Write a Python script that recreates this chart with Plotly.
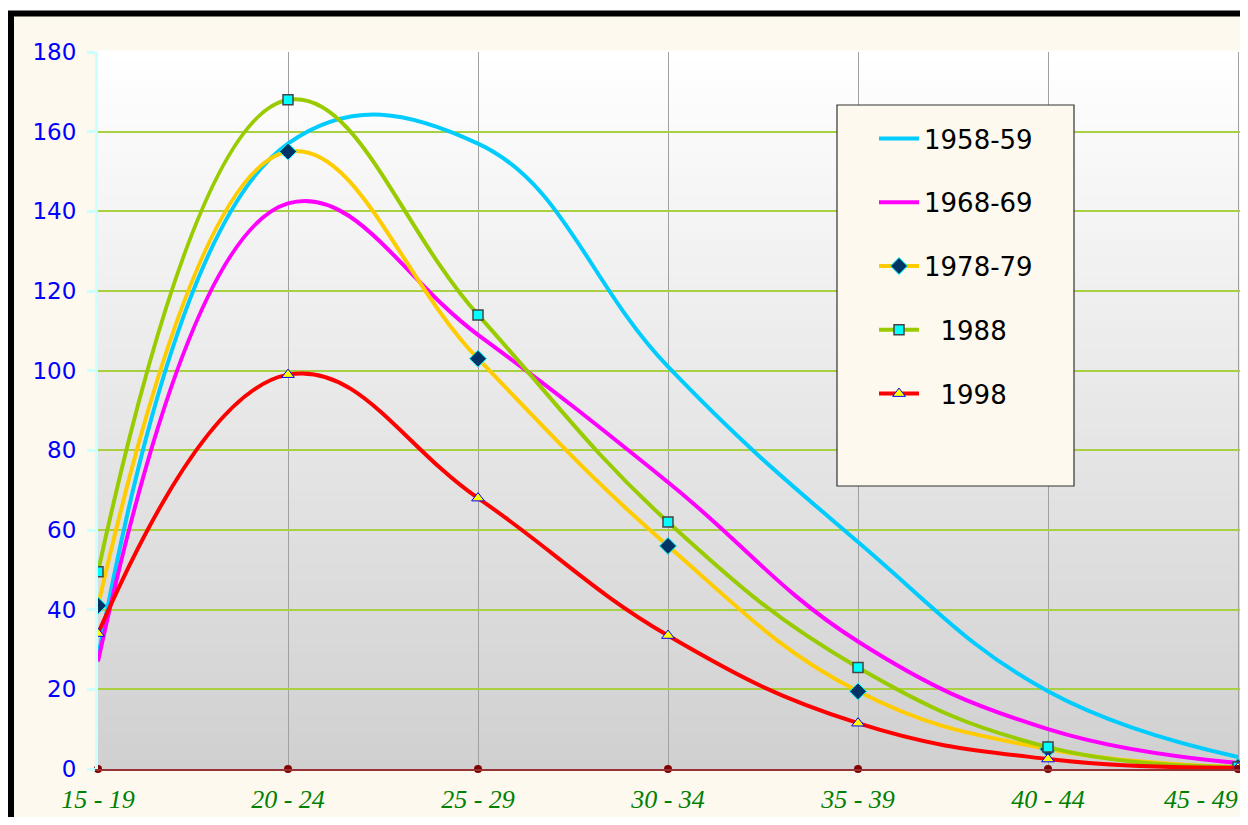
import plotly.graph_objects as go

age_groups = ["15 - 19", "20 - 24", "25 - 29", "30 - 34", "35 - 39", "40 - 44", "45 - 49"]
s_1958 = [28, 157, 157, 101, 57, 19.5, 3]
s_1968 = [27, 142, 109, 72, 32, 10, 1.5]
s_1978 = [41, 155, 103, 56, 19.5, 5, 0.5]
s_1988 = [49.5, 168, 114, 62, 25.5, 5.5, 0.5]
s_1998 = [34, 99, 68, 33.5, 11.5, 2.5, 0.3]
axis_points = [0, 0, 0, 0, 0, 0, 0]
y_ticks = [0, 20, 40, 60, 80, 100, 120, 140, 160, 180]

# figure sits in the page with the default 8px body margin
OFF = 8
W, H = 1248 - 2 * OFF, 825 - 2 * OFF
L, R, T = 98 - OFF, 0, 52 - OFF
B = H - (769 - OFF)
pw = W - L - R
ph = H - T - B

def px_x(px):  # page pixel -> paper x
    return (px - OFF - L) / pw

def px_y(py):  # page pixel -> paper y
    return (H - B - (py - OFF)) / ph

fig = go.Figure()

line_w = 4
sm = 1.2
fig.add_trace(go.Scatter(x=age_groups, y=s_1958, name="1958-59", mode="lines",
                         line=dict(color="#00CCFF", width=line_w, shape="spline", smoothing=sm),
                         legendgroup="a"))
fig.add_trace(go.Scatter(x=age_groups, y=s_1968, name="1968-69", mode="lines",
                         line=dict(color="#FF00FF", width=line_w, shape="spline", smoothing=sm),
                         legendgroup="b"))
fig.add_trace(go.Scatter(x=age_groups, y=s_1978, name="1978-79", mode="lines+markers",
                         line=dict(color="#FFCC00", width=line_w, shape="spline", smoothing=sm),
                         marker=dict(symbol="diamond", size=13, color="#003366",
                                     line=dict(color="#00FFFF", width=1)),
                         legendgroup="c"))
fig.add_trace(go.Scatter(x=age_groups, y=s_1988, name="&nbsp;&nbsp;1988", mode="lines+markers",
                         line=dict(color="#99CC00", width=line_w, shape="spline", smoothing=sm),
                         marker=dict(symbol="square", size=10, color="#00FFFF",
                                     line=dict(color="#444444", width=1.5)),
                         legendgroup="d"))
fig.add_trace(go.Scatter(x=age_groups, y=s_1998, name="&nbsp;&nbsp;1998", mode="lines+markers",
                         line=dict(color="#FF0000", width=line_w, shape="spline", smoothing=sm),
                         marker=dict(symbol="triangle-up", size=11, color="#FFFF00",
                                     line=dict(color="#0000FF", width=1)),
                         legendgroup="e"))
fig.add_trace(go.Scatter(x=age_groups, y=axis_points, mode="markers", showlegend=False,
                         marker=dict(symbol="circle", size=8, color="#800000"),
                         cliponaxis=False, hoverinfo="skip"))

shapes = []
# chart area background with thick black border
shapes.append(dict(type="rect", xref="paper", yref="paper",
                   x0=px_x(11), x1=px_x(1400), y0=px_y(1000), y1=px_y(13.5),
                   fillcolor="#FDF9EF", line=dict(color="black", width=6), layer="below"))
# plot area vertical gradient (white top -> gray bottom)
n = 80
top_c, bot_c = 255, 208
for i in range(n):
    f0 = i / n
    f1 = (i + 1) / n
    v = round(bot_c + (top_c - bot_c) * (f0 + f1) / 2)
    shapes.append(dict(type="rect", xref="x domain", yref="y domain",
                       x0=0, x1=1, y0=f0, y1=f1 + 0.002,
                       fillcolor=f"rgb({v},{v},{v})", line=dict(width=0), layer="below"))
# legend box
shapes.append(dict(type="rect", xref="paper", yref="paper",
                   x0=px_x(837), x1=px_x(1074), y0=px_y(486), y1=px_y(105),
                   fillcolor="#FDF9EF", line=dict(color="#333333", width=1.2), layer="above"))

unit = (1238 - 98) / 6.0  # page pixels per category

xfont = dict(family="Liberation Serif", size=26, color="#008000", style="italic")

# last category label kept fully visible at the right edge
tick_text = age_groups[:-1] + [""]
annotations = [dict(text=age_groups[-1], xref="paper", yref="paper",
                    x=1.0, y=0, xanchor="right", yanchor="top", yshift=-14,
                    showarrow=False, font=xfont)]

fig.update_layout(
    width=W, height=H,
    margin=dict(l=L, r=R, t=T, b=B, pad=0, autoexpand=False),
    paper_bgcolor="white",
    plot_bgcolor="rgba(0,0,0,0)",
    shapes=shapes,
    annotations=annotations,
    showlegend=True,
    legend=dict(x=px_x(874), y=px_y(115), xanchor="left", yanchor="top",
                bgcolor="rgba(0,0,0,0)", borderwidth=0,
                font=dict(family="DejaVu Sans", size=26, color="black"),
                tracegroupgap=27, itemwidth=40),
    xaxis=dict(type="category", range=[0, pw / unit], automargin=False,
               tickvals=age_groups, ticktext=tick_text,
               showgrid=True, gridcolor="#A0A0A0", gridwidth=1,
               showline=True, linecolor="#993333", linewidth=2,
               ticks="", ticklabelstandoff=6,
               tickfont=xfont,
               zeroline=False, fixedrange=True),
    yaxis=dict(range=[0, 180], tickvals=y_ticks, automargin=False,
               showgrid=True, gridcolor="#A8D040", gridwidth=1.5,
               showline=True, linecolor="#CCFFFF", linewidth=3,
               ticks="outside", ticklen=8, tickcolor="#CCFFFF", tickwidth=3,
               ticklabelstandoff=6,
               tickfont=dict(family="DejaVu Sans", size=23, color="#0000FF"),
               zeroline=False, fixedrange=True),
)

fig.write_html("out.html")
